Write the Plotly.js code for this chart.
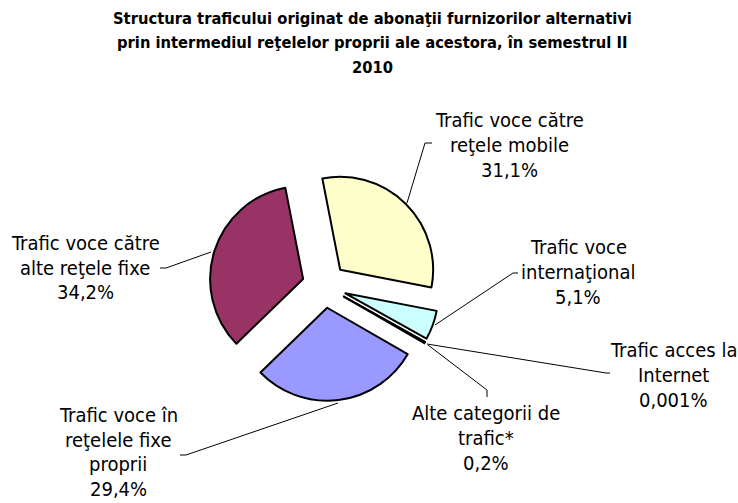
<!DOCTYPE html>
<html>
<head>
<meta charset="utf-8">
<script src="https://cdn.plot.ly/plotly-3.0.1.min.js"></script>
<style>html,body{margin:0;padding:0;background:#fff}#chart{width:738px;height:503px}</style>
</head>
<body>
<div id="chart"></div>
<script>
// ---- data ----
const categories = ['Trafic voce în reţelele fixe proprii', 'Trafic voce către alte reţele fixe', 'Trafic voce către reţele mobile', 'Trafic voce internaţional', 'Trafic acces la Internet', 'Alte categorii de trafic*'];
const shares = [29.4, 34.2, 31.1, 5.1, 0.001, 0.2];
const shareLabels = ['29,4%', '34,2%', '31,1%', '5,1%', '0,001%', '0,2%'];
const labelLines = [
  ['Trafic voce în', 'reţelele fixe', 'proprii'],
  ['Trafic voce către', 'alte reţele fixe'],
  ['Trafic voce către', 'reţele mobile'],
  ['Trafic voce', 'internaţional'],
  ['Trafic acces la', 'Internet'],
  ['Alte categorii de', 'trafic*']
];
const titleLines = ['Structura traficului originat de abonaţii furnizorilor alternativi', 'prin intermediul reţelelor proprii ale acestora, în semestrul II', '2010'];

// ---- styling / layout ----
const colors = ['#9999FF', '#993366', '#FFFFCC', '#CCFFFF', '#660066', '#FF8080'];
const W = 738, H = 503;
const FONT = 'DejaVu Sans Condensed, DejaVu Sans, sans-serif';
const labelPos = [[118, 415], [85, 243], [509, 120], [578, 247], [673, 350], [486, 413]];
const lineGaps = [24.5, 24.5, 25, 25, 25, 25];
const leaders = [
  [[180, 455], [186, 455], [338, 403]],
  [[160, 268], [166, 268], [211, 252]],
  [[432, 143], [425, 143], [407, 203]],
  [[518, 273], [513, 273], [435, 325]],
  [[610, 373], [606, 373], [427, 344]],
  [[487, 397], [487, 390], [428, 345]]
];
const pieC = [324.4, 285.6], pieHalf = 115.3, pull = 0.24;

const px = x => x / W, py = y => 1 - y / H;

const annotations = [];
titleLines.forEach((t, i) => annotations.push({
  text: '<b>' + t + '</b>', x: px(372), y: py(18 + i * 24.5), xref: 'paper', yref: 'paper',
  xanchor: 'center', yanchor: 'middle', showarrow: false,
  font: {family: FONT, size: 16.4, color: '#000'}
}));
categories.forEach((c, k) => {
  const lines = labelLines[k].concat([shareLabels[k]]);
  lines.forEach((t, i) => annotations.push({
    text: t, x: px(labelPos[k][0]), y: py(labelPos[k][1] + i * lineGaps[k]), xref: 'paper', yref: 'paper',
    xanchor: 'center', yanchor: 'middle', showarrow: false,
    font: {family: FONT, size: 20, color: '#000'}
  }));
});
const shapes = leaders.map(pts => ({
  type: 'path', xref: 'paper', yref: 'paper',
  path: pts.map((p, i) => (i ? 'L' : 'M') + px(p[0]) + ',' + py(p[1])).join(' '),
  line: {color: '#000', width: 1}
}));

const trace = {
  type: 'pie', labels: categories, values: shares, sort: false, direction: 'clockwise', rotation: 120,
  pull: shares.map(() => pull), textinfo: 'none', hoverinfo: 'label+percent',
  marker: {colors: colors, line: {color: '#000', width: 2}},
  domain: {x: [px(pieC[0] - pieHalf), px(pieC[0] + pieHalf)], y: [py(pieC[1] + pieHalf), py(pieC[1] - pieHalf)]}
};

Plotly.newPlot('chart', [trace], {
  width: W, height: H, margin: {l: 0, r: 0, t: 0, b: 0}, showlegend: false,
  paper_bgcolor: '#fff', plot_bgcolor: '#fff', annotations: annotations, shapes: shapes,
  font: {family: FONT}
}, {displayModeBar: false, staticPlot: true});
</script>
</body>
</html>
